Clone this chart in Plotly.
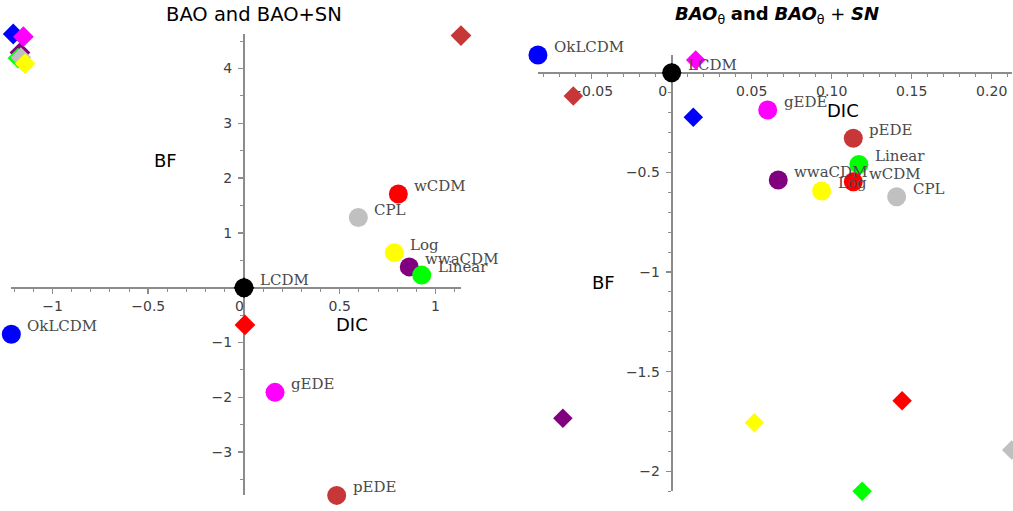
import plotly.graph_objects as go

W, H = 1013, 511

# ---------------- data ----------------
models = ["LCDM", "OkLCDM", "wwaCDM", "Linear", "wCDM", "CPL", "Log", "gEDE", "pEDE"]
model_colors = ["#000000", "#0000ff", "#800080", "#00ff00", "#ff0000",
                "#c0c0c0", "#ffff00", "#ff00ff", "#c83737"]

# left panel: BAO and BAO+SN
left_circle_dic = [0.0, -1.215, 0.863, 0.928, 0.806, 0.597, 0.785, 0.162, 0.484]
left_circle_bf = [0.0, -0.85, 0.38, 0.23, 1.71, 1.28, 0.64, -1.91, -3.79]
left_diamond_dic = [0.0, -1.205, -1.170, -1.180, 0.005, -1.165, -1.143, -1.152, 1.133]
left_diamond_bf = [0.0, 4.63, 4.29, 4.19, -0.68, 4.20, 4.09, 4.58, 4.60]

# right panel: BAO_theta and BAO_theta + SN
right_circle_dic = [0.0, -0.0836, 0.0666, 0.117, 0.1135, 0.1406, 0.0937, 0.060, 0.1135]
right_circle_bf = [0.0, 0.089, -0.538, -0.46, -0.547, -0.622, -0.594, -0.187, -0.329]
right_diamond_dic = [0.0, 0.0135, -0.068, 0.119, 0.144, 0.2125, 0.0517, 0.015, -0.0615]
right_diamond_bf = [0.0, -0.224, -1.734, -2.10, -1.646, -1.893, -1.756, 0.064, -0.117]

left_xticks = [-1, -0.5, 0, 0.5, 1]
left_xticktext = ["\u22121", "\u22120.5", "0\u00a0\u00a0", "0.5", "1"]
left_yticks = [-3, -2, -1, 1, 2, 3, 4]
left_yticktext = ["\u22123", "\u22122", "\u22121", "1", "2", "3", "4"]
right_xticks = [-0.05, 0, 0.05, 0.10, 0.15, 0.20]
right_xticktext = ["\u22120.05", "0\u00a0\u00a0\u00a0\u00a0", "0.05", "0.10", "0.15", "0.20"]
right_yticks = [-2, -1.5, -1, -0.5]
right_yticktext = ["\u22122", "\u22121.5", "\u22121", "\u22120.5"]

# ---------------- layout helpers ----------------
# pixel origin and pixels-per-unit of each panel
LEFT_ORIGIN, LEFT_SCALE = (244.0, 287.7), (191.5, 54.8)
RIGHT_ORIGIN, RIGHT_SCALE = (671.7, 72.7), (1600.0, 199.3)


def rng(*arrs):
    vals = [v for a in arrs for v in a]
    return [min(vals), max(vals)]


def domains(r_x, r_y, origin, scale):
    ox, oy = origin
    sx, sy = scale
    dx = [(ox + sx * r_x[0]) / W, (ox + sx * r_x[1]) / W]
    dy = [1 - (oy - sy * r_y[0]) / H, 1 - (oy - sy * r_y[1]) / H]
    return dx, dy


def zero_pos(r, d):
    return d[0] + (0 - r[0]) / (r[1] - r[0]) * (d[1] - d[0])


lx = rng(left_circle_dic, left_diamond_dic)
ly = rng(left_circle_bf, left_diamond_bf)
rx = rng(right_circle_dic, right_diamond_dic)
ry = rng(right_circle_bf, right_diamond_bf)
ldx, ldy = domains(lx, ly, LEFT_ORIGIN, LEFT_SCALE)
rdx, rdy = domains(rx, ry, RIGHT_ORIGIN, RIGHT_SCALE)
ldx[1] = min(ldx[1], 1.0)
rdx[1] = min(rdx[1], 1.0)

AX_COL = "#8c8c8c"
TICK_FONT = dict(family="DejaVu Sans", size=14, color="#404040")
LABEL_FONT = dict(family="DejaVu Serif", size=15, color="#4a4a4a")

fig = go.Figure()

CIRCLE_SIZE = 19


def add_panel(xa, ya, cx, cy, dx, dy, dsize):
    fig.add_trace(go.Scatter(
        x=dx, y=dy, mode="markers", xaxis=xa, yaxis=ya, cliponaxis=False,
        marker=dict(symbol="diamond", size=dsize, color=model_colors, line=dict(width=0)),
        showlegend=False, hoverinfo="skip"))
    fig.add_trace(go.Scatter(
        x=cx, y=cy, mode="markers", xaxis=xa, yaxis=ya, cliponaxis=False,
        marker=dict(symbol="circle", size=CIRCLE_SIZE, color=model_colors, line=dict(width=0)),
        showlegend=False, hoverinfo="skip"))
    for name, x, y in zip(models, cx, cy):
        fig.add_annotation(x=x, y=y, xref=xa, yref=ya, text=name, showarrow=False,
                           xanchor="left", yanchor="middle", xshift=14, yshift=8,
                           font=LABEL_FONT)


add_panel("x", "y", left_circle_dic, left_circle_bf, left_diamond_dic, left_diamond_bf, 16)
add_panel("x2", "y2", right_circle_dic, right_circle_bf, right_diamond_dic, right_diamond_bf, 15)


def xaxis(r, d, ydom, yr, tv, tt, minor_dtick):
    return dict(range=r, domain=d, anchor="free", position=zero_pos(yr, ydom),
                showgrid=False, zeroline=False, showline=True, linecolor=AX_COL, linewidth=2,
                layer="below traces",
                tickmode="array", tickvals=tv, ticktext=tt, ticks="outside", ticklen=5,
                tickwidth=1.5, tickcolor=AX_COL, tickfont=TICK_FONT,
                minor=dict(dtick=minor_dtick, tick0=0, ticks="outside", ticklen=3,
                           tickwidth=1, tickcolor=AX_COL, showgrid=False),
                fixedrange=True)


def yaxis(r, d, xdom, xr, tv, tt, minor_dtick):
    return dict(range=r, domain=d, anchor="free", position=zero_pos(xr, xdom),
                showgrid=False, zeroline=False, showline=True, linecolor=AX_COL, linewidth=2,
                layer="below traces",
                tickmode="array", tickvals=tv, ticktext=tt, ticks="outside", ticklen=5,
                tickwidth=1.5, tickcolor=AX_COL, tickfont=TICK_FONT,
                ticklabelstandoff=3,
                minor=dict(dtick=minor_dtick, tick0=0, ticks="outside", ticklen=3,
                           tickwidth=1, tickcolor=AX_COL, showgrid=False),
                fixedrange=True)


fig.update_layout(
    width=W, height=H, margin=dict(l=0, r=0, t=0, b=0),
    paper_bgcolor="white", plot_bgcolor="white",
    xaxis=xaxis(lx, ldx, ldy, ly, left_xticks, left_xticktext, 0.1),
    yaxis=yaxis(ly, ldy, ldx, lx, left_yticks, left_yticktext, 0.5),
    xaxis2=xaxis(rx, rdx, rdy, ry, right_xticks, right_xticktext, 0.01),
    yaxis2=yaxis(ry, rdy, rdx, rx, right_yticks, right_yticktext, 0.1),
)

AXT_FONT = dict(family="DejaVu Sans", size=18, color="#000000")
for text, px, py in [("BF", 165, 160), ("DIC", 352, 324), ("BF", 603, 282), ("DIC", 843, 110)]:
    fig.add_annotation(x=px / W, y=1 - py / H, xref="paper", yref="paper", text=text,
                       showarrow=False, xanchor="center", yanchor="middle", font=AXT_FONT)

fig.add_annotation(x=254 / W, y=1 - 14 / H, xref="paper", yref="paper",
                   text="BAO and BAO+SN", showarrow=False, xanchor="center",
                   yanchor="middle", font=dict(family="DejaVu Sans", size=19.5, color="#000000"))
fig.add_annotation(x=777 / W, y=1 - 15 / H, xref="paper", yref="paper",
                   text="<b><i>BAO</i></b><sub>\u03b8</sub> <b>and</b> <b><i>BAO</i></b><sub>\u03b8</sub> + <b><i>SN</i></b>",
                   showarrow=False, xanchor="center", yanchor="middle",
                   font=dict(family="DejaVu Sans", size=18, color="#000000"))

fig.write_html("out.html", config={"displayModeBar": False, "staticPlot": True},
               post_script="document.body.style.margin='0';document.body.style.overflow='hidden';")
